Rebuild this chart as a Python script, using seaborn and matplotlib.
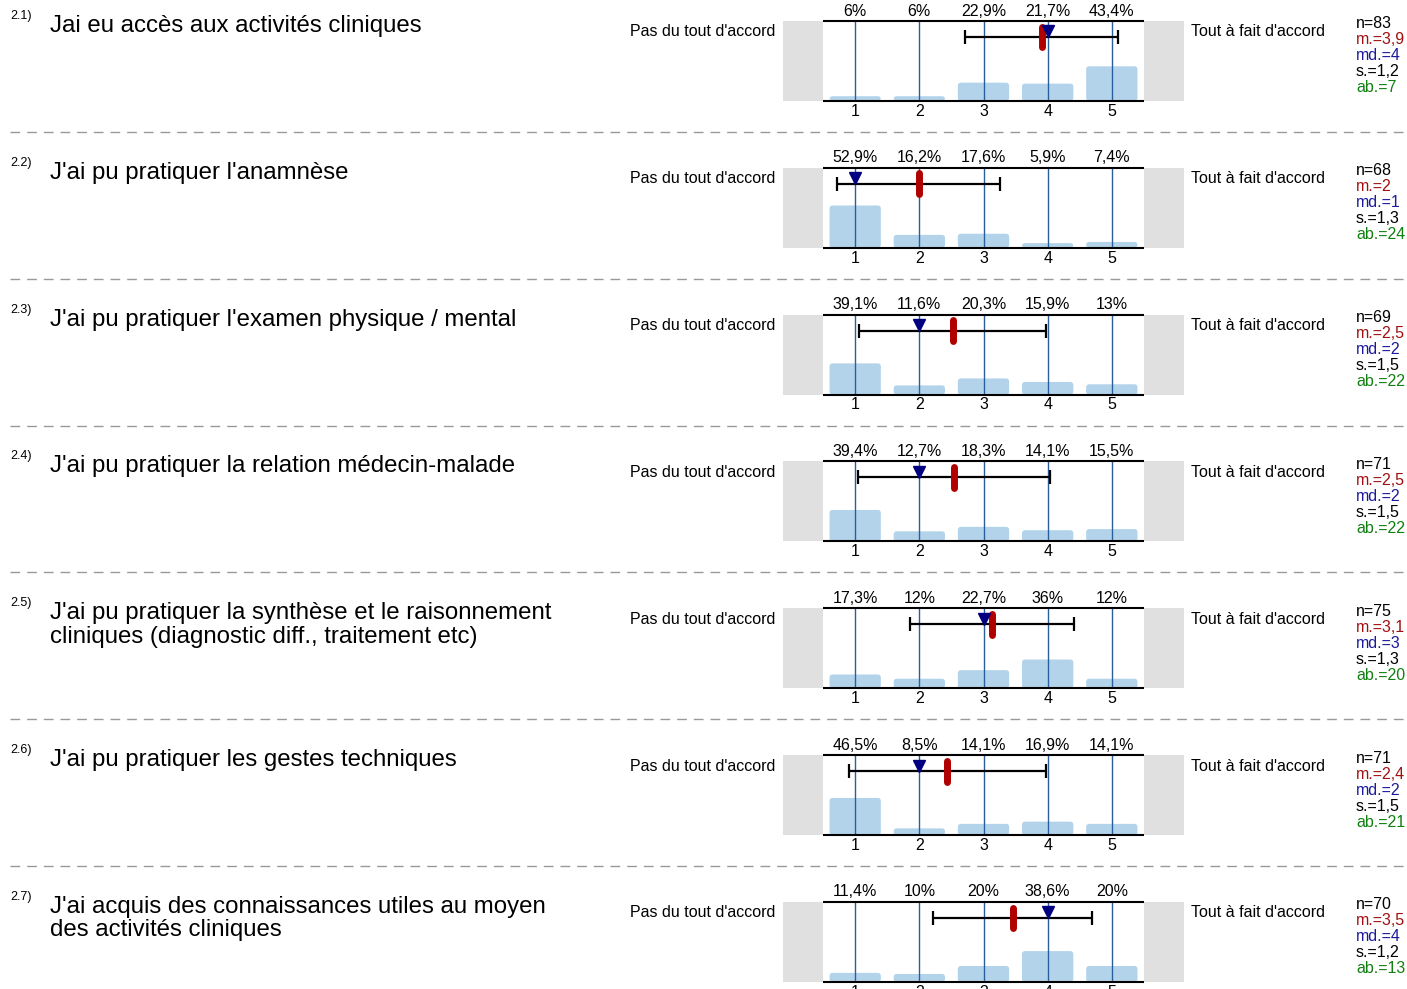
import numpy as np
import pandas as pd
import matplotlib
matplotlib.use("Agg")
import matplotlib.pyplot as plt
import seaborn as sns
from matplotlib.patches import FancyBboxPatch

# --- data ---
numbers = ["2.1)", "2.2)", "2.3)", "2.4)", "2.5)", "2.6)", "2.7)"]
titles = [
    "Jai eu accès aux activités cliniques",
    "J'ai pu pratiquer l'anamnèse",
    "J'ai pu pratiquer l'examen physique / mental",
    "J'ai pu pratiquer la relation médecin-malade",
    "J'ai pu pratiquer la synthèse et le raisonnement\ncliniques (diagnostic diff., traitement etc)",
    "J'ai pu pratiquer les gestes techniques",
    "J'ai acquis des connaissances utiles au moyen\ndes activités cliniques",
]
pct = [
    [6, 6, 22.9, 21.7, 43.4],
    [52.9, 16.2, 17.6, 5.9, 7.4],
    [39.1, 11.6, 20.3, 15.9, 13],
    [39.4, 12.7, 18.3, 14.1, 15.5],
    [17.3, 12, 22.7, 36, 12],
    [46.5, 8.5, 14.1, 16.9, 14.1],
    [11.4, 10, 20, 38.6, 20],
]
n_vals = [83, 68, 69, 71, 75, 71, 70]
mean_lbl = ["3,9", "2", "2,5", "2,5", "3,1", "2,4", "3,5"]
median_vals = [4, 1, 2, 2, 3, 2, 4]
sd_lbl = ["1,2", "1,3", "1,5", "1,5", "1,3", "1,5", "1,2"]
ab_vals = [7, 24, 22, 22, 20, 21, 13]
scale = [1, 2, 3, 4, 5]
left_lbl = "Pas du tout d'accord"
right_lbl = "Tout à fait d'accord"

W, H = 1407, 989
sns.set_style("white")
plt.rcParams["font.family"] = ["Liberation Sans", "DejaVu Sans"]
plt.rcParams["text.color"] = "black"
plt.rcParams["xtick.color"] = "black"

fig = plt.figure(figsize=(W / 100, H / 100), dpi=100)

def fx(px):
    return px / W

def fy(py):
    return 1 - py / H

row_h = 146.83
bar_blue = "#b3d3ea"
line_blue = "#2a5f9e"
grey = "#e0e0e0"
fs = 11.5

for k in range(7):
    top = 21 + row_h * k
    ax = fig.add_axes([fx(783), fy(top + 80), fx(1184 - 783), 80 / H])
    df = pd.DataFrame({"val": scale, "pct": pct[k]})
    sns.barplot(data=df, x="val", y="pct", native_scale=True, width=0.8,
                color=bar_blue, saturation=1, ax=ax, zorder=1)
    # round the top corners of the bars
    for p in list(ax.patches):
        x0, y0 = p.get_x(), p.get_y()
        w, h = p.get_width(), p.get_height()
        rp = FancyBboxPatch((x0, y0), w, h,
                            boxstyle="round,pad=0,rounding_size=0.05",
                            mutation_aspect=80, fc=bar_blue, ec="none", zorder=1)
        p.remove()
        ax.add_patch(rp)
    ax.set_xlim(-0.125, 6.125)
    ax.set_ylim(0, 100)
    ax.axvspan(-0.125, 0.5, color=grey, lw=0, zorder=0)
    ax.axvspan(5.5, 6.125, color=grey, lw=0, zorder=0)
    ax.hlines([0, 100], 0.5, 5.5, color="black", lw=1.5, zorder=3, clip_on=False)
    ax.vlines(scale, 0, 100, color=line_blue, lw=1, zorder=2)
    for s in ax.spines.values():
        s.set_visible(False)
    ax.set_xlabel("")
    ax.set_ylabel("")
    ax.set_yticks([])
    ax.set_xticks(scale)
    ax.set_xticklabels([str(v) for v in scale], fontsize=fs)
    ax.tick_params(axis="x", length=0, pad=2)
    for v, p_ in zip(scale, pct[k]):
        lbl = (f"{p_:g}".replace(".", ",")) + "%"
        ax.text(v, 112.5, lbl, ha="center", va="center", fontsize=fs, clip_on=False)

    # mean +- sd from the distribution
    probs = np.array(pct[k]) / np.sum(pct[k])
    xs = np.array(scale)
    mu = float(np.sum(probs * xs))
    sd = float(np.sqrt(np.sum(probs * xs ** 2) - mu ** 2))
    ax.errorbar(mu, 80, xerr=sd, color="black", lw=1.6, capsize=5,
                capthick=1.6, zorder=4)
    ax.plot([mu, mu], [67, 93], color="#b00000", lw=5,
            solid_capstyle="round", zorder=5)
    ax.plot(median_vals[k], 87, marker="v", color="#000080", ms=8,
            ls="none", zorder=6)

    # texts
    fig.text(fx(10), fy(top - 5), numbers[k], fontsize=9, ha="left", va="center")
    fig.text(fx(50), fy(top - 6), titles[k], fontsize=17.3, ha="left", va="top",
             linespacing=1.08)
    fig.text(fx(775), fy(top + 11), left_lbl, fontsize=fs, ha="right", va="center")
    fig.text(fx(1191), fy(top + 11), right_lbl, fontsize=fs, ha="left", va="center")
    stats = [
        (f"n={n_vals[k]}", "black"),
        (f"m.={mean_lbl[k]}", "#a01010"),
        (f"md.={median_vals[k]}", "#1a1a9a"),
        (f"s.={sd_lbl[k]}", "black"),
        (f"ab.={ab_vals[k]}", "#108010"),
    ]
    for i, (t, c) in enumerate(stats):
        fig.text(fx(1356), fy(top + 3 + 16 * i), t, fontsize=fs, color=c,
                 ha="left", va="center")

    if k < 6:
        ysep = fy(132 + row_h * k)
        fig.add_artist(plt.Line2D([fx(10), 1], [ysep, ysep], color="#999999",
                                  lw=1, dashes=(7, 5)))

fig.savefig("out.png", dpi=100)
